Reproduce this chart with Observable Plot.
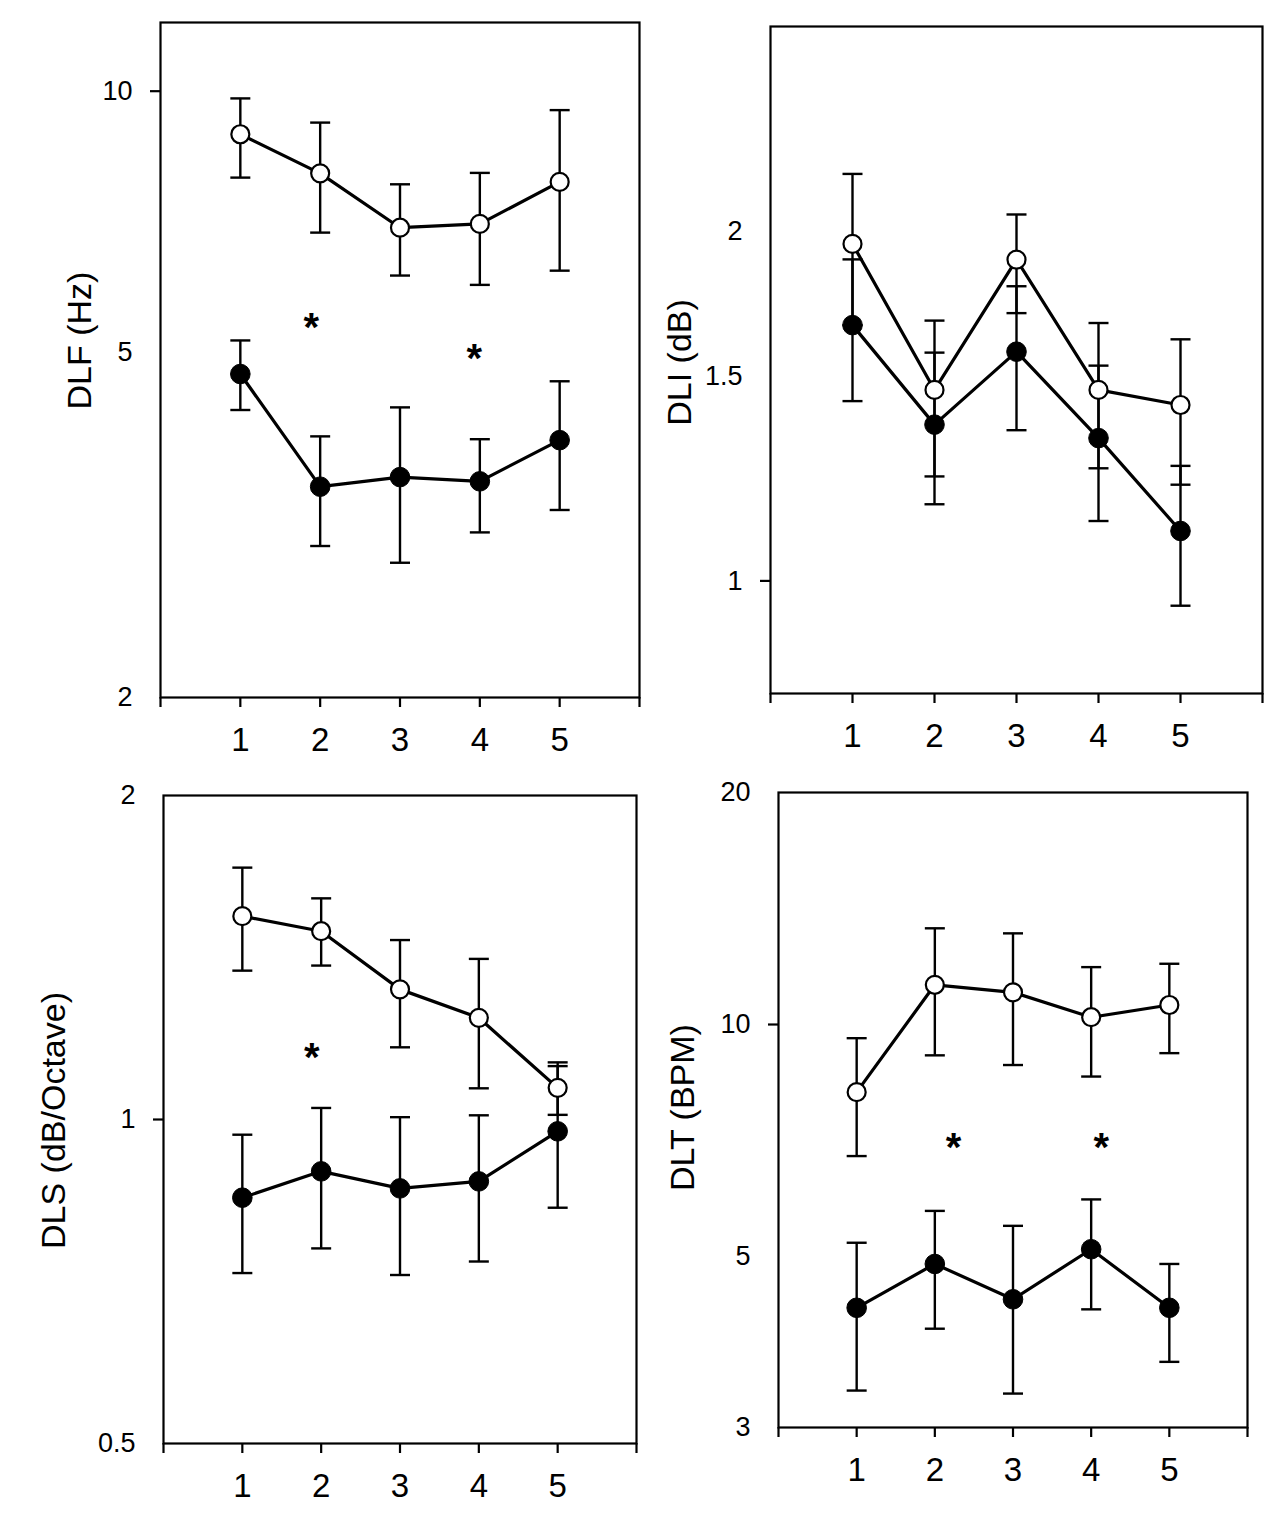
<!DOCTYPE html>
<html>
<head>
<meta charset="utf-8">
<script src="https://cdn.jsdelivr.net/npm/d3@7"></script>
<script src="https://cdn.jsdelivr.net/npm/@observablehq/plot@0.6"></script>
<style>
  html, body { margin: 0; padding: 0; background: #fff; }
  #page { position: relative; width: 1280px; height: 1529px; background: #fff; overflow: hidden; }
  .panel { position: absolute; }
</style>
</head>
<body>
<div id="page"></div>
<script>
// ---------- data ----------
const conditions = [1, 2, 3, 4, 5];
const xTicks = [0, 1, 2, 3, 4, 5, 6];
const xTickLabels = [1, 2, 3, 4, 5];

// DLF (Hz)
const dlfOpen     = [8.92, 8.04, 6.96, 7.03, 7.86];
const dlfOpenLo   = [7.95, 6.87, 6.13, 5.98, 6.21];
const dlfOpenHi   = [9.81, 9.20, 7.81, 8.05, 9.51];
const dlfFilled   = [4.72, 3.50, 3.59, 3.55, 3.96];
const dlfFilledLo = [4.29, 2.99, 2.86, 3.10, 3.29];
const dlfFilledHi = [5.16, 4.00, 4.32, 3.97, 4.63];
const dlfStarX = [1.89, 3.93];
const dlfStarY = [5.40, 4.97];
const dlfYLabels = [10, 5, 2];
const dlfYDecades = [10];

// DLI (dB)
const dliOpen     = [1.95, 1.46, 1.89, 1.46, 1.417];
const dliOpenLo   = [1.66, 1.23, 1.70, 1.25, 1.21];
const dliOpenHi   = [2.24, 1.675, 2.067, 1.667, 1.614];
const dliFilled   = [1.66, 1.363, 1.575, 1.327, 1.104];
const dliFilledLo = [1.428, 1.164, 1.348, 1.126, 0.952];
const dliFilledHi = [1.891, 1.572, 1.793, 1.532, 1.256];
const dliStarX = [];
const dliStarY = [];
const dliYLabels = [2, 1.5, 1];
const dliYDecades = [1];

// DLS (dB/Octave)
const dlsOpen     = [1.545, 1.496, 1.321, 1.243, 1.070];
const dlsOpenLo   = [1.375, 1.390, 1.167, 1.069, 1.01];
const dlsOpenHi   = [1.714, 1.605, 1.468, 1.410, 1.130];
const dlsFilled   = [0.846, 0.895, 0.863, 0.876, 0.975];
const dlsFilledLo = [0.720, 0.759, 0.717, 0.738, 0.828];
const dlsFilledHi = [0.968, 1.025, 1.005, 1.009, 1.121];
const dlsStarX = [1.88];
const dlsStarY = [1.153];
const dlsYLabels = [2, 1, 0.5];
const dlsYDecades = [1];

// DLT (BPM)
const dltOpen     = [8.17, 11.26, 11.01, 10.22, 10.60];
const dltOpenLo   = [6.75, 9.12, 8.86, 8.56, 9.18];
const dltOpenHi   = [9.60, 13.33, 13.13, 11.87, 11.99];
const dltFilled   = [4.29, 4.89, 4.40, 5.11, 4.29];
const dltFilledLo = [3.35, 4.03, 3.32, 4.27, 3.65];
const dltFilledHi = [5.21, 5.73, 5.48, 5.93, 4.89];
const dltStarX = [2.24, 4.13];
const dltStarY = [7.01, 7.01];
const dltYLabels = [20, 10, 5, 3];
const dltYDecades = [10];

// ---------- drawing ----------
const FONT = "'Liberation Sans', Arial, Helvetica, sans-serif";

const capSymbol = {
  draw(context, size) {
    const r = Math.sqrt(size / Math.PI);
    context.moveTo(-r, 0);
    context.lineTo(r, 0);
  }
};

function rows(mean, lo, hi) {
  return conditions.map((c, i) => ({x: c, y: mean[i], lo: lo[i], hi: hi[i]}));
}

function panel(cfg) {
  const open = rows(cfg.open, cfg.openLo, cfg.openHi);
  const filled = rows(cfg.filled, cfg.filledLo, cfg.filledHi);
  const stars = cfg.starX.map((x, i) => ({x, y: cfg.starY[i]}));
  const [ml, mr, mt, mb] = cfg.margins;
  const frameMidY = (mt + cfg.height - mb) / 2;

  const errMarks = (data) => [
    Plot.ruleX(data, {x: "x", y1: "lo", y2: "hi", stroke: "black", strokeWidth: 2.4}),
    Plot.dot(data, {x: "x", y: "hi", symbol: capSymbol, r: 10, stroke: "black", strokeWidth: 2.4}),
    Plot.dot(data, {x: "x", y: "lo", symbol: capSymbol, r: 10, stroke: "black", strokeWidth: 2.4})
  ];

  const chart = Plot.plot({
    width: cfg.width,
    height: cfg.height,
    marginLeft: ml, marginRight: mr, marginTop: mt, marginBottom: mb,
    x: {domain: [0, 6], axis: null, label: null},
    y: {type: "log", domain: cfg.yDomain, axis: null, label: null},
    style: {fontFamily: FONT, color: "black", background: "white", overflow: "visible"},
    marks: [
      ...errMarks(filled),
      ...errMarks(open),
      Plot.line(open, {x: "x", y: "y", stroke: "black", strokeWidth: 3.2}),
      Plot.line(filled, {x: "x", y: "y", stroke: "black", strokeWidth: 3.2}),
      Plot.dot(open, {x: "x", y: "y", r: 9, fill: "white", stroke: "black", strokeWidth: 2.2}),
      Plot.dot(filled, {x: "x", y: "y", r: 9.8, fill: "black", stroke: "black", strokeWidth: 1}),
      Plot.text(stars, {x: "x", y: "y", text: () => "*", fontSize: 40, fontWeight: "bold", dy: 5, fill: "black"}),
      Plot.frame({stroke: "black", strokeWidth: 2.2}),
      Plot.axisX(xTicks, {
        tickSize: 10, tickPadding: 20, strokeWidth: 2.2, fontSize: 33, label: null,
        tickFormat: d => xTickLabels.includes(d) ? String(d) : ""
      }),
      Plot.axisY(cfg.yLabels, {tickSize: 0, tickPadding: 28, fontSize: 27, label: null, tickFormat: d => String(d)}),
      Plot.axisY(cfg.yDecades, {tickSize: 10, strokeWidth: 2.2, label: null, tickFormat: () => ""}),
      Plot.text([cfg.label], {
        frameAnchor: "left", text: d => d, rotate: -90,
        dx: cfg.labelX - ml, dy: cfg.labelY - frameMidY,
        fontSize: 34, textAnchor: "middle", lineAnchor: "middle", fill: "black"
      })
    ]
  });
  const div = document.createElement("div");
  div.className = "panel";
  div.style.left = cfg.left + "px";
  div.style.top = cfg.top + "px";
  div.appendChild(chart);
  document.getElementById("page").appendChild(div);
}

panel({
  left: 0, top: 0, width: 650, height: 770, margins: [160, 11, 22, 73],
  yDomain: [2, 12], yLabels: dlfYLabels, yDecades: dlfYDecades,
  open: dlfOpen, openLo: dlfOpenLo, openHi: dlfOpenHi,
  filled: dlfFilled, filledLo: dlfFilledLo, filledHi: dlfFilledHi,
  starX: dlfStarX, starY: dlfStarY,
  label: "DLF (Hz)", labelX: 80, labelY: 340
});

panel({
  left: 650, top: 0, width: 630, height: 770, margins: [120, 18, 26, 77],
  yDomain: [0.8, 3], yLabels: dliYLabels, yDecades: dliYDecades,
  open: dliOpen, openLo: dliOpenLo, openHi: dliOpenHi,
  filled: dliFilled, filledLo: dliFilledLo, filledHi: dliFilledHi,
  starX: dliStarX, starY: dliStarY,
  label: "DLI (dB)", labelX: 680 - 650, labelY: 362
});

panel({
  left: 0, top: 770, width: 650, height: 759, margins: [163, 14, 25, 86],
  yDomain: [0.5, 2], yLabels: dlsYLabels, yDecades: dlsYDecades,
  open: dlsOpen, openLo: dlsOpenLo, openHi: dlsOpenHi,
  filled: dlsFilled, filledLo: dlsFilledLo, filledHi: dlsFilledHi,
  starX: dlsStarX, starY: dlsStarY,
  label: "DLS (dB/Octave)", labelX: 54, labelY: 1120 - 770
});

panel({
  left: 650, top: 770, width: 630, height: 759, margins: [128, 33, 22, 102],
  yDomain: [3, 20], yLabels: dltYLabels, yDecades: dltYDecades,
  open: dltOpen, openLo: dltOpenLo, openHi: dltOpenHi,
  filled: dltFilled, filledLo: dltFilledLo, filledHi: dltFilledHi,
  starX: dltStarX, starY: dltStarY,
  label: "DLT (BPM)", labelX: 683 - 650, labelY: 1107 - 770
});
</script>
</body>
</html>
